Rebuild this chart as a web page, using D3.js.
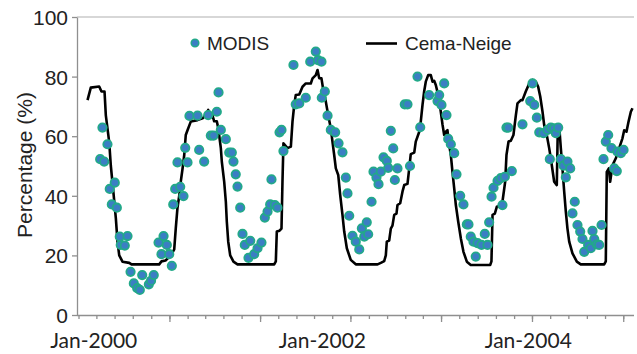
<!DOCTYPE html>
<html>
<head>
<meta charset="utf-8">
<script src="https://cdn.jsdelivr.net/npm/d3@7"></script>
<style>
  html, body { margin: 0; padding: 0; background: #fff; }
  svg { display: block; }
</style>
</head>
<body>
<svg id="chart" width="637" height="354"></svg>
<script>
// Simulated snow-covered area (Cema-Neige): time in decimal years, value in %
const cemaT = [
  2000.083, 2000.113, 2000.190, 2000.211, 2000.239, 2000.251, 2000.282, 2000.297, 2000.321, 2000.343,
  2000.358, 2000.374, 2000.404, 2000.466, 2000.487, 2000.741, 2000.762, 2000.799, 2000.848, 2000.879,
  2000.893, 2000.909, 2000.925, 2000.939, 2000.955, 2000.971, 2000.985, 2001.001, 2001.031, 2001.093,
  2001.139, 2001.169, 2001.191, 2001.208, 2001.230, 2001.246, 2001.270, 2001.283, 2001.307, 2001.316,
  2001.338, 2001.353, 2001.362, 2001.375, 2001.393, 2001.423, 2001.460, 2001.797, 2001.812, 2001.821,
  2001.846, 2001.864, 2001.873, 2001.882, 2001.919, 2001.950, 2001.965, 2001.981, 2001.995, 2002.027,
  2002.057, 2002.087, 2002.133, 2002.149, 2002.179, 2002.195, 2002.210, 2002.231, 2002.250, 2002.271,
  2002.293, 2002.317, 2002.332, 2002.348, 2002.363, 2002.385, 2002.403, 2002.424, 2002.440, 2002.464,
  2002.500, 2002.546, 2002.746, 2002.776, 2002.807, 2002.822, 2002.831, 2002.853, 2002.868, 2002.883,
  2002.899, 2002.920, 2002.929, 2002.954, 2002.975, 2002.991, 2003.021, 2003.037, 2003.051, 2003.083,
  2003.097, 2003.129, 2003.143, 2003.159, 2003.174, 2003.189, 2003.211, 2003.235, 2003.251, 2003.266,
  2003.281, 2003.303, 2003.327, 2003.343, 2003.358, 2003.373, 2003.388, 2003.404, 2003.419, 2003.434,
  2003.450, 2003.465, 2003.487, 2003.511, 2003.535, 2003.566, 2003.602, 2003.781, 2003.792, 2003.802,
  2003.823, 2003.841, 2003.872, 2003.893, 2003.918, 2003.930, 2003.949, 2003.970, 2003.994, 2004.016,
  2004.031, 2004.062, 2004.077, 2004.107, 2004.139, 2004.169, 2004.199, 2004.221, 2004.240, 2004.261,
  2004.276, 2004.300, 2004.322, 2004.337, 2004.368, 2004.392, 2004.401, 2004.417, 2004.429, 2004.444,
  2004.460, 2004.475, 2004.490, 2004.506, 2004.536, 2004.576, 2004.612, 2004.827, 2004.842, 2004.851,
  2004.870, 2004.882, 2004.904, 2004.934, 2004.965, 2004.995, 2005.011, 2005.032, 2005.051, 2005.072,
  2005.087
];
const cemaV = [
  72.1, 76.3, 76.7, 75.0, 75.0, 67.0, 58.0, 50.0, 41.0, 32.4,
  24.6, 20.0, 17.9, 17.5, 17.0, 17.0, 18.0, 18.3, 20.0, 22.0,
  29.0, 36.0, 40.0, 44.7, 49.0, 53.7, 60.4, 62.0, 64.9, 65.4,
  66.0, 67.1, 68.8, 66.5, 67.0, 65.0, 65.0, 62.8, 56.0, 51.5,
  44.7, 38.0, 31.3, 24.6, 20.0, 17.9, 17.0, 17.0, 18.0, 28.0,
  28.3, 29.0, 44.7, 57.6, 56.0, 56.5, 64.9, 70.5, 73.8, 74.0,
  76.6, 77.7, 77.7, 79.4, 80.5, 82.2, 79.5, 79.4, 75.0, 71.6,
  67.0, 62.6, 58.2, 53.7, 49.2, 47.0, 40.3, 33.6, 28.0, 22.4,
  18.5, 17.0, 17.0, 17.5, 18.1, 20.0, 24.6, 25.0, 29.0, 30.0,
  33.6, 34.0, 36.9, 37.5, 41.4, 43.6, 44.0, 49.2, 54.0, 54.5,
  58.2, 61.5, 64.9, 70.5, 75.0, 78.3, 80.5, 80.5, 78.3, 78.6,
  77.2, 73.8, 68.2, 63.8, 60.4, 61.5, 62.0, 57.0, 53.7, 48.0,
  42.5, 36.9, 31.3, 25.7, 21.2, 17.9, 16.8, 16.8, 18.0, 33.6,
  34.0, 36.3, 36.7, 38.0, 44.7, 53.7, 58.2, 58.5, 60.4, 67.0,
  71.0, 72.1, 72.1, 75.0, 77.7, 78.9, 78.3, 76.6, 73.3, 68.2,
  63.8, 60.4, 56.0, 52.6, 44.7, 43.6, 62.0, 62.0, 56.0, 49.2,
  41.4, 34.7, 29.0, 24.6, 20.7, 17.9, 17.0, 17.0, 18.0, 48.0,
  49.2, 44.7, 50.3, 52.6, 56.0, 59.3, 62.0, 61.5, 64.9, 68.2,
  69.4
];

// Observed snow-covered area (MODIS): time in decimal years, value in %
const modisT = [
  2000.199, 2000.220, 2000.236, 2000.266, 2000.287, 2000.306, 2000.333, 2000.352, 2000.379, 2000.388,
  2000.425, 2000.450, 2000.478, 2000.508, 2000.539, 2000.563, 2000.585, 2000.646, 2000.666, 2000.691,
  2000.735, 2000.762, 2000.781, 2000.811, 2000.833, 2000.857, 2000.870, 2000.888, 2000.909, 2000.934,
  2000.964, 2000.980, 2001.001, 2001.019, 2001.093, 2001.108, 2001.154, 2001.191, 2001.215, 2001.240,
  2001.270, 2001.286, 2001.307, 2001.353, 2001.384, 2001.408, 2001.423, 2001.444, 2001.460, 2001.485,
  2001.506, 2001.527, 2001.561, 2001.577, 2001.613, 2001.644, 2001.680, 2001.711, 2001.736, 2001.760,
  2001.772, 2001.803, 2001.827, 2001.846, 2001.864, 2001.882, 2001.974, 2001.995, 2002.027, 2002.087,
  2002.128, 2002.179, 2002.199, 2002.231, 2002.234, 2002.262, 2002.287, 2002.317, 2002.357, 2002.388,
  2002.424, 2002.455, 2002.470, 2002.486, 2002.516, 2002.546, 2002.578, 2002.602, 2002.624, 2002.647,
  2002.660, 2002.691, 2002.709, 2002.736, 2002.755, 2002.776, 2002.801, 2002.831, 2002.844, 2002.868,
  2002.890, 2002.905, 2002.929, 2002.996, 2003.021, 2003.044, 2003.113, 2003.138, 2003.220, 2003.297,
  2003.312, 2003.333, 2003.358, 2003.379, 2003.395, 2003.419, 2003.450, 2003.471, 2003.505, 2003.535,
  2003.566, 2003.581, 2003.602, 2003.627, 2003.648, 2003.664, 2003.701, 2003.731, 2003.756, 2003.771,
  2003.793, 2003.811, 2003.848, 2003.878, 2003.893, 2003.915, 2003.930, 2003.946, 2003.979, 2004.077,
  2004.148, 2004.169, 2004.185, 2004.209, 2004.231, 2004.270, 2004.307, 2004.328, 2004.337, 2004.368,
  2004.383, 2004.405, 2004.429, 2004.454, 2004.475, 2004.490, 2004.515, 2004.536, 2004.557, 2004.582,
  2004.607, 2004.628, 2004.644, 2004.680, 2004.704, 2004.720, 2004.736, 2004.760, 2004.781, 2004.803,
  2004.821, 2004.842, 2004.864, 2004.894, 2004.919, 2004.943, 2004.949, 2004.980, 2005.005
];
const modisV = [
  52.3, 62.9, 51.5, 57.3, 42.3, 37.1, 44.4, 36.0, 26.3, 23.5,
  23.3, 26.5, 14.5, 10.6, 9.0, 8.4, 13.4, 10.3, 11.5, 13.4,
  24.3, 20.4, 26.5, 23.5, 20.4, 16.5, 37.1, 42.3, 51.2, 43.0,
  39.9, 56.1, 51.2, 66.8, 66.9, 55.4, 51.5, 67.1, 60.2, 60.2,
  68.2, 74.7, 62.1, 59.0, 54.5, 54.5, 51.5, 47.2, 43.1, 36.0,
  27.2, 23.5, 19.2, 24.9, 20.4, 22.4, 24.3, 32.7, 34.7, 37.1,
  45.5, 36.9, 36.0, 61.3, 62.1, 55.0, 83.9, 70.7, 71.0, 72.9,
  85.0, 88.4, 85.5, 85.0, 72.9, 75.0, 66.9, 62.1, 61.3, 57.6,
  54.6, 46.1, 40.8, 33.3, 26.6, 24.6, 22.0, 29.1, 26.3, 31.1,
  27.1, 38.0, 48.1, 46.1, 43.9, 48.1, 52.9, 51.7, 49.4, 61.8,
  55.9, 45.3, 49.2, 70.7, 70.7, 50.0, 80.0, 63.0, 73.8, 71.8,
  73.8, 70.5, 77.7, 67.1, 59.1, 57.3, 54.3, 47.2, 40.0, 37.1,
  30.4, 30.4, 26.3, 24.6, 19.6, 24.1, 23.5, 27.2, 23.5, 31.1,
  39.7, 42.7, 45.0, 45.9, 36.9, 46.4, 62.9, 62.9, 48.3, 64.0,
  71.8, 77.7, 70.5, 66.2, 61.3, 61.0, 62.1, 52.3, 62.9, 62.6,
  61.0, 62.9, 52.3, 50.1, 46.2, 51.5, 49.2, 34.1, 38.0, 30.2,
  28.0, 25.5, 21.2, 23.5, 22.4, 28.2, 25.5, 23.7, 23.5, 30.2,
  52.3, 58.2, 60.4, 56.0, 49.2, 48.3, 54.8, 54.3, 55.4
];

// Axis settings
const yTicks = [0, 20, 40, 60, 80, 100];
const xStart = 2000.0, xEnd = 2005.101;
const xLabelText = ["Jan-2000", "Jan-2002", "Jan-2004"];
const xLabelAt = [2000.14, 2002.24, 2004.13];
const seriesNames = ["MODIS", "Cema-Neige"];

const toDate = t => new Date(Date.UTC(2000, 0, 1) + (t - 2000) * 365.25 * 864e5);

const svg = d3.select("#chart");
const W = 637, H = 354;
const m = { left: 78.5, right: 3, top: 17, bottom: 39 };

const x = d3.scaleUtc().domain([toDate(xStart), toDate(xEnd)]).range([m.left, W - m.right]);
const y = d3.scaleLinear().domain([0, 100]).range([H - m.bottom, m.top]);

const axisColor = "#8f8f8f";
const textColor = "#222";

// top frame line
svg.append("line")
  .attr("x1", m.left - 1.5).attr("x2", W - m.right)
  .attr("y1", y(100)).attr("y2", y(100))
  .attr("stroke", "#b0b0b0").attr("stroke-width", 1.2);

// x axis: minor ticks every 2 months, major every 10 months
const minorDates = d3.utcMonth.every(2).range(toDate(xStart), toDate(xEnd));
const majorDates = minorDates.filter((d, i) => i % 5 === 0 && i > 0);

const gxMinor = svg.append("g")
  .attr("transform", `translate(0,${y(0)})`)
  .call(d3.axisBottom(x).tickValues(minorDates).tickSize(4).tickSizeOuter(0).tickFormat(""));
const gxMajor = svg.append("g")
  .attr("transform", `translate(0,${y(0)})`)
  .call(d3.axisBottom(x).tickValues(majorDates).tickSize(7).tickSizeOuter(0).tickFormat(""));
gxMajor.select(".domain").remove();
[gxMinor, gxMajor].forEach(g => {
  g.selectAll("path, line").attr("stroke", axisColor).attr("stroke-width", 1.3);
});
gxMinor.select(".domain").attr("d", `M${m.left - 1.5},0.5H${W - m.right}`);

svg.append("g")
  .selectAll("text")
  .data(xLabelText)
  .join("text")
  .attr("x", (d, i) => x(toDate(xLabelAt[i])))
  .attr("y", 348)
  .attr("text-anchor", "middle")
  .attr("font-family", "Lato, 'Open Sans', sans-serif")
  .attr("font-size", 21)
  .attr("fill", textColor)
  .text(d => d);

// y axis
const gy = svg.append("g")
  .attr("transform", `translate(${m.left - 1.5},0)`)
  .call(d3.axisLeft(y).tickValues(yTicks).tickSize(5).tickSizeOuter(0).tickPadding(4));
gy.selectAll("path, line").attr("stroke", axisColor).attr("stroke-width", 1.3);
gy.selectAll("text")
  .attr("font-family", "'Liberation Sans', Arial, sans-serif")
  .attr("font-size", 21)
  .attr("fill", textColor)
  .attr("dy", "0.36em");

svg.append("text")
  .attr("transform", `translate(32,${(90 + 240) / 2}) rotate(-90)`)
  .attr("text-anchor", "middle")
  .attr("font-family", "'Liberation Sans', Arial, sans-serif")
  .attr("font-size", 21)
  .attr("fill", textColor)
  .text("Percentage (%)");

// simulated series
const cema = cemaT.map((t, i) => ({ d: toDate(t), v: cemaV[i] }));
svg.append("path")
  .datum(cema)
  .attr("fill", "none")
  .attr("stroke", "#000")
  .attr("stroke-width", 2.6)
  .attr("stroke-linejoin", "round")
  .attr("d", d3.line().x(p => x(p.d)).y(p => y(p.v)));

// observed points
const dotFill = "#3b7ec4", dotStroke = "#22a989";
const modis = modisT.map((t, i) => ({ d: toDate(t), v: modisV[i] }));
svg.append("g")
  .selectAll("circle")
  .data(modis)
  .join("circle")
  .attr("cx", p => x(p.d))
  .attr("cy", p => y(p.v))
  .attr("r", 4.2)
  .attr("fill", dotFill)
  .attr("stroke", dotStroke)
  .attr("stroke-width", 1.8);

// legend
const lg = svg.append("g");
lg.append("circle").attr("cx", 195).attr("cy", 43).attr("r", 3.8)
  .attr("fill", dotFill).attr("stroke", dotStroke).attr("stroke-width", 1.5);
lg.append("text").attr("x", 207).attr("y", 50)
  .attr("font-family", "'Liberation Sans', Arial, sans-serif").attr("font-size", 19)
  .attr("fill", textColor).text(seriesNames[0]);
lg.append("line").attr("x1", 366).attr("x2", 397).attr("y1", 43.5).attr("y2", 43.5)
  .attr("stroke", "#000").attr("stroke-width", 2.6);
lg.append("text").attr("x", 405).attr("y", 50)
  .attr("font-family", "'Liberation Sans', Arial, sans-serif").attr("font-size", 19)
  .attr("fill", textColor).text(seriesNames[1]);
</script>
</body>
</html>
